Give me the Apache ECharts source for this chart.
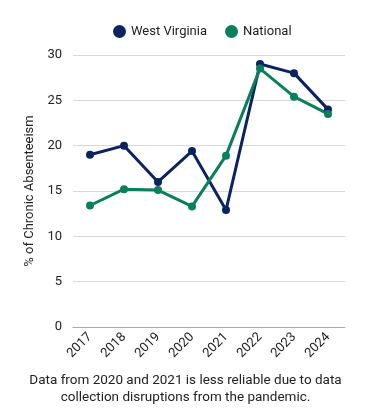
<!DOCTYPE html>
<html><head><meta charset="utf-8">
<script src="https://cdn.jsdelivr.net/npm/echarts@6/dist/echarts.min.js"></script>
<style>html,body{margin:0;padding:0;background:#fff}#c{width:371px;height:417px}</style>
</head><body><div id="c"></div>
<script>
const years = ['2017','2018','2019','2020','2021','2022','2023','2024'];
const westVirginia = [19, 20, 16, 19.4, 12.9, 29, 28, 24];
const national = [13.4, 15.2, 15.1, 13.3, 18.9, 28.5, 25.4, 23.5];
const yTicks = [0, 5, 10, 15, 20, 25, 30];
const chart = echarts.init(document.getElementById('c'));
const font = 'Roboto';
chart.setOption({
  animation: false,
  textStyle: { fontFamily: font },
  legend: {
    top: 20, left: 108, itemWidth: 13, itemHeight: 13, itemGap: 18,
    icon: 'circle',
    textStyle: { fontSize: 13, color: '#222', fontFamily: font },
    data: ['West Virginia', 'National']
  },
  grid: { left: 73, right: 26, top: 55, bottom: 90 },
  xAxis: {
    type: 'category', data: years, boundaryGap: true,
    axisLine: { lineStyle: { color: '#aaa' } },
    axisTick: { show: false },
    axisLabel: { rotate: 45, fontSize: 13, color: '#222', margin: 8, fontFamily: font }
  },
  yAxis: {
    type: 'value', min: yTicks[0], max: yTicks[yTicks.length - 1], interval: 5,
    name: '% of Chronic Absenteeism', nameLocation: 'middle', nameGap: 34,
    nameTextStyle: { fontSize: 13, color: '#222', fontFamily: font },
    axisLine: { show: false }, axisTick: { show: false },
    axisLabel: { fontSize: 13, color: '#222', margin: 11, fontFamily: font },
    splitLine: { lineStyle: { color: '#d9d9d9' } }
  },
  graphic: [{
    type: 'text', left: 'center', top: 372,
    style: {
      text: 'Data from 2020 and 2021 is less reliable due to data\ncollection disruptions from the pandemic.',
      fontSize: 13.5, fill: '#222', textAlign: 'center', lineHeight: 17, fontFamily: font
    }
  }],
  series: [
    { name: 'West Virginia', type: 'line', data: westVirginia, color: '#0b2461',
      symbol: 'circle', symbolSize: 8, lineStyle: { width: 3 } },
    { name: 'National', type: 'line', data: national, color: '#0a7f5c',
      symbol: 'circle', symbolSize: 8, lineStyle: { width: 3 } }
  ]
});
</script></body></html>
